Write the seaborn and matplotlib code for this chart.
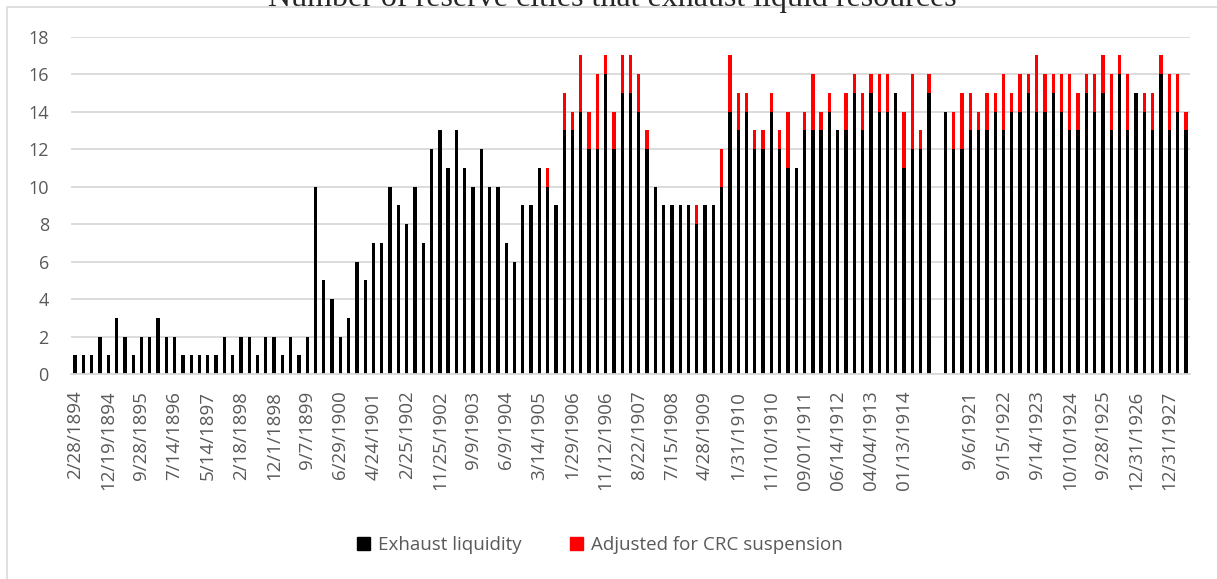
import matplotlib
matplotlib.use('Agg')
import matplotlib.pyplot as plt
from matplotlib.patches import Patch, Rectangle
import numpy as np
import pandas as pd
import seaborn as sns

# values, one per bar (135 bars, bar 105 is empty)
exhaust = [1, 1, 1, 2, 1, 3, 2, 1, 2, 2, 3, 2, 2, 1, 1, 1, 1, 1, 2, 1,
           2, 2, 1, 2, 2, 1, 2, 1, 2, 10,
           5, 4, 2, 3, 6, 5, 7, 7, 10, 9, 8, 10, 7, 12, 13, 11, 13, 11, 10, 12,
           10, 10, 7, 6, 9, 9, 11, 10, 9,
           13, 13, 14, 12, 12, 16, 12, 15, 15, 14, 12, 10, 9, 9, 9, 9, 8, 9, 9, 10,
           14, 13, 14, 12, 12, 14, 12, 11, 11, 13, 13, 13, 14,
           13, 13, 15, 13, 15, 14, 14, 15, 11, 12, 12, 15,
           0,
           14, 12, 12, 13, 13, 13, 14, 13, 14, 14, 15, 14, 14, 15, 14, 13, 13, 15,
           14, 15, 13, 16, 13, 15, 14, 13, 16, 13, 14, 13]
crc_extra = [0] * 57 + [1, 0] + \
            [2, 1, 3, 2, 4, 1, 2, 2, 2, 2, 1, 0, 0, 0, 0, 0, 1, 0, 0, 2,
             3, 2, 1, 1, 1, 1, 1, 3, 0, 1, 3, 1, 1] + \
            [0, 2, 1, 2, 1, 2, 2, 0, 3, 4, 1, 1] + \
            [0] + \
            [0, 2, 3, 2, 1, 2, 1, 3, 1, 2, 1, 3, 2, 1, 2, 3, 2, 1, 2, 2, 3, 1, 3, 0,
             1, 2, 1, 3, 2, 1]

# only every 4th date is printed on the axis
tick_labels = ['2/28/1894', '12/19/1894', '9/28/1895', '7/14/1896', '5/14/1897',
               '2/18/1898', '12/1/1898', '9/7/1899', '6/29/1900', '4/24/1901',
               '2/25/1902', '11/25/1902', '9/9/1903', '6/9/1904', '3/14/1905',
               '1/29/1906', '11/12/1906', '8/22/1907', '7/15/1908', '4/28/1909',
               '1/31/1910', '11/10/1910', '09/01/1911', '06/14/1912', '04/04/1913',
               '01/13/1914', '', '9/6/1921', '9/15/1922', '9/14/1923',
               '10/10/1924', '9/28/1925', '12/31/1926', '12/31/1927']

df = pd.DataFrame({'pos': np.arange(len(exhaust)),
                   'exhaust': exhaust,
                   'adjusted': np.array(exhaust) + np.array(crc_extra)})

sns.set_style('white')
plt.rcParams['font.family'] = ['Open Sans', 'DejaVu Sans']

grey = '#595959'
fig = plt.figure(figsize=(12.17, 5.79), dpi=100)
ax = fig.add_axes([71 / 1217, 1 - 374 / 579, (1190 - 71) / 1217, (374 - 36.7) / 579])

sns.barplot(data=df, x='pos', y='adjusted', color='#ff0000', saturation=1,
            width=0.4, errorbar=None, linewidth=0, ax=ax)
sns.barplot(data=df, x='pos', y='exhaust', color='black', saturation=1,
            width=0.4, errorbar=None, linewidth=0, ax=ax)

ax.set_xlim(-0.5, len(exhaust) - 0.5)
ax.set_ylim(0, 18)
ax.set_yticks(range(0, 19, 2))
ax.set_xticks(df['pos'].values[::4])
ax.set_xticklabels(tick_labels, rotation=90)
ax.set_xlabel('')
ax.set_ylabel('')
ax.yaxis.grid(True, color='#d9d9d9', linewidth=1.3)
ax.xaxis.grid(False)
ax.set_axisbelow(True)
for s in ['top', 'right', 'left']:
    ax.spines[s].set_visible(False)
ax.spines['bottom'].set_color('#d9d9d9')
ax.spines['bottom'].set_linewidth(1.3)
ax.tick_params(axis='y', length=0, pad=16, labelsize=13, labelcolor=grey)
ax.tick_params(axis='x', length=0, pad=12, labelsize=13.5, labelcolor=grey)

# title sits half outside the top of the image, as in the original
fig.text(612 / 1217, 1 - 6 / 579, 'Number of reserve cities that exhaust liquid resources',
         ha='center', va='baseline', fontsize=23, family='Liberation Serif')

# chart border
fig.patches.append(Rectangle((7 / 1217, -0.05), 1.1, 1 - 7 / 579 + 0.05,
                             transform=fig.transFigure, fill=False,
                             edgecolor='#d9d9d9', linewidth=1.2))

handles = [Patch(color='black', label='Exhaust liquidity'),
           Patch(color='#ff0000', label='Adjusted for CRC suspension')]
fig.legend(handles=handles, loc='center', bbox_to_anchor=(600 / 1217, 1 - 545 / 579),
           ncol=2, frameon=False, fontsize=13.5, handlelength=0.7, handleheight=0.7,
           handletextpad=0.4, columnspacing=2.6, labelcolor=grey)

fig.savefig('out.png', dpi=100)
